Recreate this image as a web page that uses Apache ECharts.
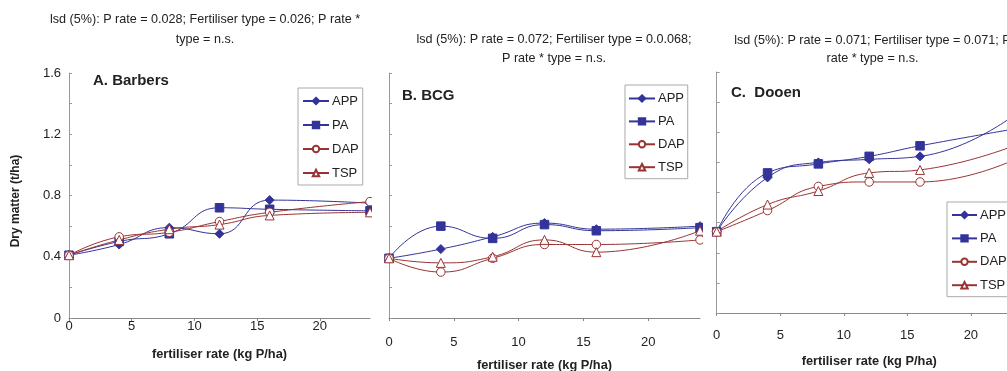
<!DOCTYPE html>
<html><head><meta charset="utf-8">
<script src="https://cdn.jsdelivr.net/npm/echarts@6/dist/echarts.min.js"></script>
<style>html,body{margin:0;padding:0;background:#fff}#c{width:1007px;height:371px}</style>
</head><body><div id="c"></div>
<script>
// ---- data ----
const rates = [0, 4, 8, 12, 16, 24];
const seriesNames = ['APP', 'PA', 'DAP', 'TSP'];
const barbersAPP = [0.41, 0.48, 0.59, 0.55, 0.77, 0.75];
const barbersPA  = [0.41, 0.50, 0.55, 0.72, 0.71, 0.70];
const barbersDAP = [0.41, 0.53, 0.56, 0.63, 0.69, 0.76];
const barbersTSP = [0.41, 0.51, 0.58, 0.61, 0.67, 0.69];
const bcgAPP = [0.39, 0.45, 0.53, 0.62, 0.58, 0.60];
const bcgPA  = [0.39, 0.60, 0.52, 0.61, 0.57, 0.59];
const bcgDAP = [0.39, 0.30, 0.39, 0.48, 0.48, 0.51];
const bcgTSP = [0.39, 0.36, 0.40, 0.51, 0.43, 0.57];
const dooenAPP = [0.54, 0.90, 1.00, 1.02, 1.04, 1.35];
const dooenPA  = [0.54, 0.93, 0.99, 1.04, 1.11, 1.23];
const dooenDAP = [0.54, 0.68, 0.84, 0.87, 0.87, 1.04];
const dooenTSP = [0.54, 0.72, 0.81, 0.93, 0.95, 1.13];
const xTickValues = [0, 5, 10, 15, 20];
const yTickLabelValues = [0, 0.4, 0.8, 1.2, 1.6];
const panelTitles = ['A. Barbers', 'B. BCG', 'C.  Dooen'];
const lsdLines = [
  ['lsd (5%): P rate = 0.028; Fertiliser type = 0.026; P rate *', 'type = n.s.'],
  ['lsd (5%): P rate = 0.072; Fertiliser type = 0.0.068;', 'P rate * type = n.s.'],
  ['lsd (5%): P rate = 0.071; Fertiliser type = 0.071; P', 'rate * type = n.s.']
];
const xName = 'fertiliser rate (kg P/ha)';
const yName = 'Dry matter (t/ha)';

// ---- styling / layout ----
const FONT = '"Liberation Sans", Arial, sans-serif';
const BLUE = '#333399', RED = '#993333', TXT = '#222';
const panelData = [
  [barbersAPP, barbersPA, barbersDAP, barbersTSP],
  [bcgAPP, bcgPA, bcgDAP, bcgTSP],
  [dooenAPP, dooenPA, dooenDAP, dooenTSP]
];
const grids = [
  {left: 69, top: 73, width: 301, height: 245},
  {left: 389, top: 73, width: 311, height: 245},
  {left: 716.7, top: 72, width: 305, height: 241}
];
const labelMargin = [2, 17.5, 15.7];
const nameGaps = [29.5, 41, 42];
const zBase = [1, 11, 21];
const symbolStyles = [
  {symbol: 'diamond', symbolSize: 9, color: BLUE, fill: BLUE},
  {symbol: 'rect', symbolSize: 8.5, color: BLUE, fill: BLUE},
  {symbol: 'circle', symbolSize: 8.5, color: RED, fill: '#fff'},
  {symbol: 'triangle', symbolSize: 9, color: RED, fill: '#fff'}
];
const legendPos = [
  {left: 298, top: 88, itemGap: 11, padding: [6.5, 4, 5.5, 4], itemWidth: 26},
  {left: 625, top: 85, itemGap: 9.9, padding: [7, 3, 5, 3], itemWidth: 26},
  {left: 947, top: 202, itemGap: 10.4, padding: [6.5, 4, 5, 4], itemWidth: 25}
];
const titlePos = [[93, 80.5], [402, 96], [731, 93]];
const lsdPos = [[205, 20, 39.5], [554, 40, 58.5], [872.5, 40.5, 58.5]];

const option = {
  animation: false,
  backgroundColor: '#fff',
  textStyle: {fontFamily: FONT},
  grid: grids.map(g => Object.assign({outerBoundsMode: 'none', containLabel: false}, g)),
  xAxis: grids.map((g, i) => ({
    type: 'value', gridIndex: i, min: 0, max: 24, z: zBase[i],
    name: xName, nameLocation: 'middle', nameGap: nameGaps[i],
    nameTextStyle: {fontFamily: FONT, fontSize: 12.8, fontWeight: 'bold', color: TXT},
    axisLine: {lineStyle: {color: '#888', width: 1}},
    axisTick: {show: true, inside: false, length: 3, customValues: xTickValues, lineStyle: {color: '#888'}},
    axisLabel: {customValues: xTickValues, margin: labelMargin[i], fontFamily: FONT, fontSize: 13, color: TXT},
    splitLine: {show: false}
  })),
  yAxis: grids.map((g, i) => ({
    type: 'value', gridIndex: i, min: 0, max: 1.6, interval: 0.2, z: zBase[i],
    name: i === 0 ? yName : '', nameLocation: 'middle', nameGap: 47, nameRotate: 90,
    nameTextStyle: {fontFamily: FONT, fontSize: 12, fontWeight: 'bold', color: TXT, padding: [0, 11, 0, 0]},
    axisLine: {show: true, lineStyle: {color: '#999', width: 1}},
    axisTick: {show: true, inside: true, length: 3, lineStyle: {color: '#999'}},
    axisLabel: i === 0
      ? {customValues: yTickLabelValues, margin: 8, fontFamily: FONT, fontSize: 13, color: TXT,
         padding: [0, 0, 25, 0], verticalAlign: 'middle'}
      : {show: false},
    splitLine: {show: false}
  })),
  legend: legendPos.map((l, i) => ({
    data: seriesNames, orient: 'vertical', left: l.left, top: l.top, z: zBase[i] + 2,
    itemGap: l.itemGap, padding: l.padding, itemWidth: l.itemWidth, itemHeight: 8,
    borderColor: '#aaa', borderWidth: 1, backgroundColor: '#fff', borderRadius: 0,
    selectedMode: false,
    textStyle: {fontFamily: FONT, fontSize: 13, color: TXT, padding: [0, 0, 0, -2]}
  })),
  series: [],
  graphic: []
};

panelData.forEach((arrs, gi) => {
  arrs.forEach((vals, si) => {
    const st = symbolStyles[si];
    option.series.push({
      type: 'line', name: seriesNames[si], xAxisIndex: gi, yAxisIndex: gi, z: zBase[gi] + 1,
      data: rates.map((r, k) => [r, vals[k]]),
      smooth: 0.5, symbol: st.symbol, symbolSize: st.symbolSize, showAllSymbol: true,
      lineStyle: {color: st.color, width: 1},
      itemStyle: {color: st.fill, borderColor: st.color, borderWidth: 1},
      emphasis: {disabled: true}
    });
  });
});

// white panel backgrounds (panels overlap like pasted pictures)
option.graphic.push({type: 'rect', z: 10, shape: {x: 372, y: 0, width: 700, height: 371}, style: {fill: '#fff'}});
option.graphic.push({type: 'rect', z: 20, shape: {x: 703, y: 0, width: 400, height: 371}, style: {fill: '#fff'}});
panelTitles.forEach((t, i) => {
  option.graphic.push({type: 'text', z: zBase[i] + 2, x: titlePos[i][0], y: titlePos[i][1],
    style: {text: t, fill: TXT, font: 'bold 15px ' + FONT, textAlign: 'left', textVerticalAlign: 'middle'}});
  option.graphic.push({type: 'text', z: zBase[i] + 2, x: lsdPos[i][0], y: lsdPos[i][1],
    style: {text: lsdLines[i][0], fill: TXT, font: '12.6px ' + FONT, textAlign: 'center', textVerticalAlign: 'middle'}});
  option.graphic.push({type: 'text', z: zBase[i] + 2, x: lsdPos[i][0], y: lsdPos[i][2],
    style: {text: lsdLines[i][1], fill: TXT, font: '12.6px ' + FONT, textAlign: 'center', textVerticalAlign: 'middle'}});
});

const chart = echarts.init(document.getElementById('c'), null, {renderer: 'canvas'});
chart.setOption(option);
</script></body></html>
